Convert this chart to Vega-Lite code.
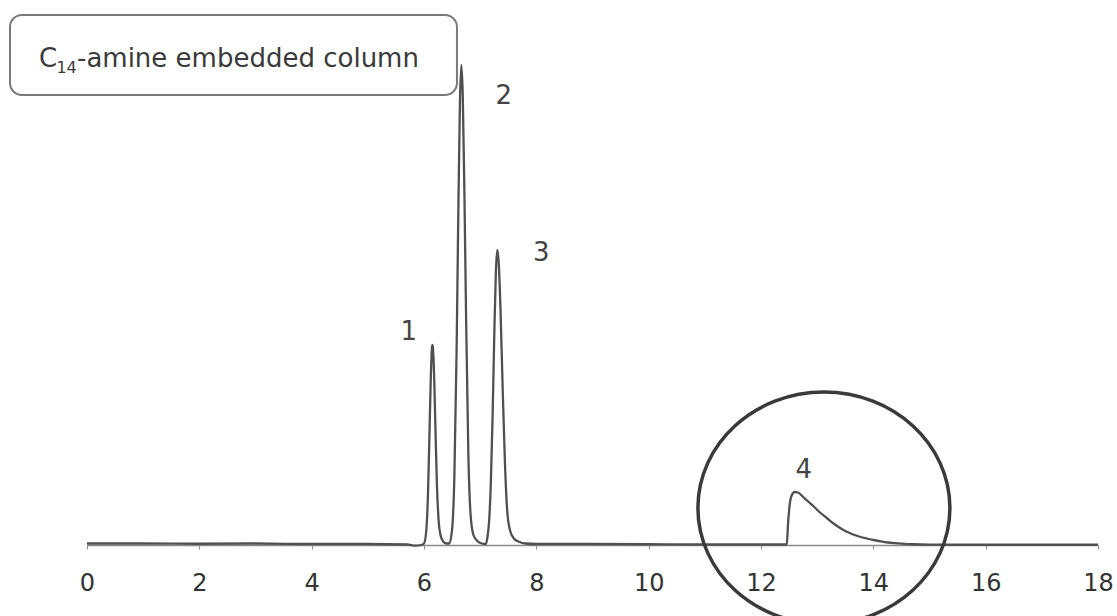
{
  "$schema": "https://vega.github.io/schema/vega-lite/v6.json",
  "width": 1011,
  "height": 500,
  "autosize": {"type": "none"},
  "padding": {"left": 87, "top": 45, "right": 19, "bottom": 71},
  "background": "white",
  "config": {"view": {"stroke": null}, "font": "DejaVu Sans"},
  "datasets": {
    "trace": [
      {"x": 0, "y": 0.3}, {"x": 1, "y": 0.3}, {"x": 2, "y": 0.25}, {"x": 3, "y": 0.3}, {"x": 4, "y": 0.2},
      {"x": 5, "y": 0.2}, {"x": 5.7, "y": 0.1}, {"x": 5.85, "y": -0.12}, {"x": 5.95, "y": 0.0}, {"x": 6.0, "y": 0.3},
      {"x": 6.04, "y": 2.8}, {"x": 6.07, "y": 9.8}, {"x": 6.1, "y": 23.5}, {"x": 6.12, "y": 33}, {"x": 6.14, "y": 39.2},
      {"x": 6.15, "y": 40}, {"x": 6.16, "y": 39.3}, {"x": 6.18, "y": 34}, {"x": 6.2, "y": 25}, {"x": 6.23, "y": 12},
      {"x": 6.26, "y": 5}, {"x": 6.3, "y": 1.7}, {"x": 6.35, "y": 0.6}, {"x": 6.4, "y": 0.3}, {"x": 6.45, "y": 0.3},
      {"x": 6.5, "y": 3.1}, {"x": 6.54, "y": 13.4}, {"x": 6.58, "y": 38.6}, {"x": 6.61, "y": 65.6}, {"x": 6.64, "y": 88.7},
      {"x": 6.665, "y": 96}, {"x": 6.69, "y": 90}, {"x": 6.72, "y": 70}, {"x": 6.75, "y": 45}, {"x": 6.79, "y": 18},
      {"x": 6.83, "y": 6}, {"x": 6.88, "y": 2}, {"x": 6.95, "y": 0.8}, {"x": 7.03, "y": 0.3}, {"x": 7.1, "y": 0.2},
      {"x": 7.13, "y": 1.6}, {"x": 7.16, "y": 4.9}, {"x": 7.19, "y": 12.4}, {"x": 7.22, "y": 25.1}, {"x": 7.25, "y": 41.3},
      {"x": 7.28, "y": 54.8}, {"x": 7.305, "y": 59}, {"x": 7.33, "y": 56.5}, {"x": 7.36, "y": 47.9}, {"x": 7.4, "y": 31.6},
      {"x": 7.44, "y": 16.8}, {"x": 7.48, "y": 7.1}, {"x": 7.53, "y": 3}, {"x": 7.6, "y": 1.3}, {"x": 7.7, "y": 0.6},
      {"x": 7.8, "y": 0.3}, {"x": 8, "y": 0.2}, {"x": 9, "y": 0.2}, {"x": 10, "y": 0.15}, {"x": 11, "y": 0.1},
      {"x": 12, "y": 0.1}, {"x": 12.46, "y": 0.1}, {"x": 12.48, "y": 4}, {"x": 12.51, "y": 8}, {"x": 12.55, "y": 10},
      {"x": 12.6, "y": 10.6}, {"x": 12.66, "y": 10.5}, {"x": 12.75, "y": 9.6}, {"x": 12.85, "y": 8.6}, {"x": 12.93, "y": 7.8},
      {"x": 13.05, "y": 6.5}, {"x": 13.17, "y": 5.4}, {"x": 13.29, "y": 4.3}, {"x": 13.41, "y": 3.4}, {"x": 13.52, "y": 2.7},
      {"x": 13.64, "y": 2.1}, {"x": 13.76, "y": 1.65}, {"x": 13.88, "y": 1.3}, {"x": 14.0, "y": 1.0}, {"x": 14.12, "y": 0.75},
      {"x": 14.26, "y": 0.5}, {"x": 14.41, "y": 0.35}, {"x": 14.56, "y": 0.22}, {"x": 14.71, "y": 0.15}, {"x": 15.0, "y": 0.08},
      {"x": 15.4, "y": 0.05}, {"x": 16, "y": 0.05}, {"x": 17, "y": 0.05}, {"x": 18, "y": 0.05}
    ],
    "peaks": [
      {"x": 5.73, "y": 42.6, "label": "1"},
      {"x": 7.42, "y": 89.8, "label": "2"},
      {"x": 8.09, "y": 58.4, "label": "3"},
      {"x": 12.76, "y": 15, "label": "4"}
    ],
    "box": [{"x": -1.371, "x2": 6.587, "y": 106, "y2": 90}],
    "titleMain": [
      {"x": -0.855, "y": 95.6, "label": "C"},
      {"x": -0.178, "y": 95.6, "label": "-amine embedded column"}
    ],
    "titleSub": [{"x": -0.545, "y": 94.4, "label": "14"}],
    "ring": [{"x": 13.12, "y": 7.4}]
  },
  "encoding": {
    "x": {
      "field": "x",
      "type": "quantitative",
      "scale": {"domain": [0, 18], "nice": false, "zero": false},
      "axis": {
        "title": null,
        "values": [0, 2, 4, 6, 8, 10, 12, 14, 16, 18],
        "grid": false,
        "domainColor": "#8a8a8a",
        "domainWidth": 1.5,
        "tickColor": "#8a8a8a",
        "tickWidth": 1,
        "tickSize": 4,
        "labelFont": "DejaVu Sans",
        "labelFontSize": 24,
        "labelColor": "#333333",
        "labelPadding": 22,
        "labelFlush": false,
        "labelOverlap": false
      }
    },
    "y": {
      "field": "y",
      "type": "quantitative",
      "scale": {"domain": [0, 100], "nice": false, "zero": false},
      "axis": null
    }
  },
  "layer": [
    {
      "data": {"name": "box"},
      "mark": {"type": "rect", "fill": "white", "stroke": "#7a7a7a", "strokeWidth": 2, "cornerRadius": 12},
      "encoding": {"x2": {"field": "x2"}, "y2": {"field": "y2"}}
    },
    {
      "data": {"name": "trace"},
      "mark": {"type": "line", "color": "#505050", "strokeWidth": 2.3, "interpolate": "monotone"},
      "encoding": {"order": {"field": "x", "type": "quantitative"}}
    },
    {
      "data": {"name": "peaks"},
      "mark": {"type": "text", "font": "DejaVu Sans", "fontSize": 26, "color": "#444444", "align": "center", "baseline": "middle"},
      "encoding": {"text": {"field": "label"}}
    },
    {
      "data": {"name": "titleMain"},
      "mark": {"type": "text", "font": "DejaVu Sans", "fontSize": 26, "color": "#3a3a3a", "align": "left", "baseline": "alphabetic"},
      "encoding": {"text": {"field": "label"}}
    },
    {
      "data": {"name": "titleSub"},
      "mark": {"type": "text", "font": "DejaVu Sans", "fontSize": 16, "color": "#3a3a3a", "align": "left", "baseline": "alphabetic"},
      "encoding": {"text": {"field": "label"}}
    },
    {
      "data": {"name": "ring"},
      "mark": {"type": "point", "shape": "M-1,0A1,0.92,0,1,0,1,0A1,0.92,0,1,0,-1,0Z", "size": 63504, "filled": false, "stroke": "#3a3a3a", "strokeWidth": 3.5, "opacity": 1}
    }
  ]
}
